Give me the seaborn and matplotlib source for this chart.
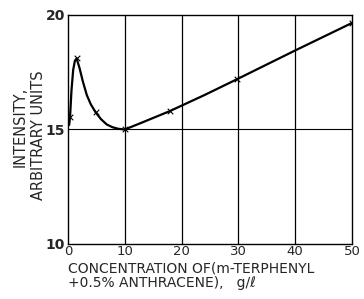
import numpy as np
import pandas as pd
import seaborn as sns
import matplotlib.pyplot as plt

# measured points (x marks)
conc = [0.35, 1.5, 4.85, 10.0, 17.9, 29.8, 50.0]
intensity = [15.55, 18.1, 15.75, 15.0, 15.8, 17.2, 19.65]

# points
curve_x = [0.2, 0.35, 0.6, 0.9, 1.2, 1.5, 2.0, 2.6, 3.3, 4.0, 4.85, 5.8, 6.8, 7.8, 8.8, 10.0, 13.0, 17.9, 24.0, 29.8, 40.0, 50.0]
curve_y = [15.2, 15.55, 16.7, 17.6, 18.0, 18.1, 17.7, 17.1, 16.5, 16.1, 15.75, 15.45, 15.22, 15.1, 15.03, 15.0, 15.3, 15.8, 16.5, 17.2, 18.45, 19.65]

xticks = [0, 10, 20, 30, 40, 50]
yticks = [10, 15, 20]

sns.set_style("white")
plt.rcParams['font.family'] = ['DejaVu Sans']

fig = plt.figure(figsize=(3.64, 2.99), dpi=100)
ax = fig.add_axes([0.187, 0.184, 0.780, 0.766])

df_curve = pd.DataFrame({"x": curve_x, "y": curve_y})
df_pts = pd.DataFrame({"x": conc, "y": intensity})

# grid lines like the original drawing
for xv in xticks[1:-1]:
    ax.axvline(xv, color="black", lw=0.9, zorder=1)
ax.axhline(15, color="black", lw=0.8, zorder=1)

sns.lineplot(data=df_curve, x="x", y="y", ax=ax, color="black", lw=1.6, sort=False, zorder=3)
sns.scatterplot(data=df_pts, x="x", y="y", ax=ax, marker="x", color="black", s=16, linewidth=0.8, zorder=4)

ax.set_xlim(0, 50)
ax.set_ylim(10, 20)
ax.set_xticks(xticks)
ax.set_yticks(yticks)
ax.tick_params(axis="x", length=0, pad=1, labelsize=9.5)
ax.tick_params(axis="y", length=0, pad=2, labelsize=10)
for lab in ax.get_yticklabels():
    lab.set_fontweight("bold")
for spine in ax.spines.values():
    spine.set_color("black")
    spine.set_linewidth(1.0)

ax.set_xlabel("")
ax.set_ylabel("")
fig.text(0.187, 0.090, "CONCENTRATION OF(m-TERPHENYL", fontsize=10, ha="left", va="baseline")
fig.text(0.187, 0.040, "+0.5% ANTHRACENE),   g/ℓ", fontsize=10, ha="left", va="baseline")
fig.text(0.069, 0.575, "INTENSITY,", fontsize=10.5, rotation=90, rotation_mode="anchor",
         ha="center", va="baseline")
fig.text(0.118, 0.548, "ARBITRARY UNITS", fontsize=10.5, rotation=90, rotation_mode="anchor",
         ha="center", va="baseline")

fig.savefig("out.png", dpi=100)
